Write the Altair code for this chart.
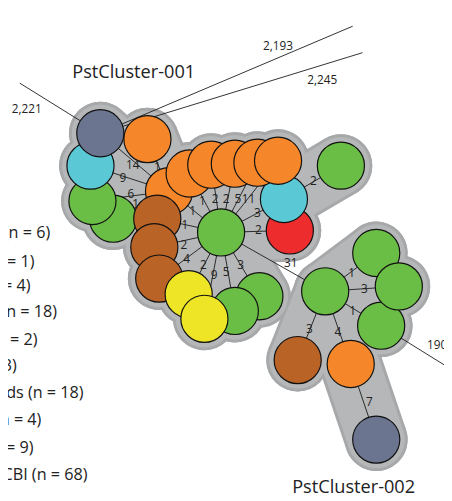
import altair as alt
import pandas as pd

# ---- nodes (reference pixel layout of the minimum spanning tree) ----
node_x = [115, 94, 92, 102, 150, 172, 160, 157, 162, 264, 239, 192, 208,
          225, 295, 289, 193, 215, 239, 262, 283, 347,
          331, 383, 388, 406, 303, 357, 383]
node_y = [218, 200, 164, 131, 137, 190, 218, 247, 279, 297, 312, 295, 320,
          232, 230, 198, 172, 163, 162, 161, 159, 164,
          292, 253, 327, 287, 362, 366, 443]
node_color = ["#6abd45", "#6abd45", "#5ac8d5", "#6b7590", "#f5872a", "#f5872a",
              "#b96326", "#b96326", "#b96326", "#6abd45", "#6abd45", "#ede526", "#ede526",
              "#6abd45", "#ec2c2d", "#5ac8d5", "#f5872a", "#f5872a", "#f5872a", "#f5872a",
              "#f5872a", "#6abd45",
              "#6abd45", "#6abd45", "#6abd45", "#6abd45", "#b96326", "#f5872a", "#6b7590"]

# ---- edges (node indices) with allele differences ----
edge_src = [5, 5, 5, 5, 5, 13, 13, 13, 13, 13, 13, 13, 13, 13, 13, 13, 13, 13, 13, 13, 15,
            13, 22, 22, 22, 22, 22, 27]
edge_dst = [3, 4, 2, 1, 0, 5, 6, 7, 8, 11, 12, 10, 9, 16, 17, 18, 19, 20, 15, 14, 21,
            22, 23, 25, 24, 26, 27, 28]
edge_label = ["14", "1", "9", "6", "1", "1", "1", "2", "4", "2", "9", "5", "3", "1", "2", "2",
              "5", "11", "3", "2", "2", "31", "1", "3", "1", "3", "4", "7"]
label_x = [135, 160, 125, 133, 138, 196, 188, 187, 190, 207, 218, 230, 245, 206, 219, 230,
           242, 253, 262, 263, 319, 296, 358, 371, 359, 315, 344, 376]
label_y = [163, 165, 177, 193, 203, 210, 225, 245, 259, 265, 275, 272, 265, 200, 198, 198,
           198, 198, 212, 230, 180, 263, 273, 290, 312, 330, 333, 405]

# ---- long edges to profiles outside the view ----
stub_src = [3, 3, 3, 24]
stub_x = [20, 359, 369, 470]
stub_y = [80, 22, 49, 378]
stub_label = ["2,221", "2,193", "2,245", "190"]
stub_label_x = [27, 283, 328, 445]
stub_label_y = [106, 42, 77, 347]

# ---- cluster names ----
cluster_name = ["PstCluster-001", "PstCluster-002"]
cluster_x = [136, 360]
cluster_y = [69, 491]

# ---- legend fragments (cut at the left edge) ----
legend_text = ["(n = 6)", "(n = 1)", "(n = 4)", "(n = 18)", "(n = 2)", "(n = 3)",
               "ds (n = 18)", "(n = 4)", "(n = 9)", "CBI (n = 68)"]
legend_right = [51, 35, 31, 58, 38, 17, 85, 42, 34, 89]
legend_y = [233, 262, 287, 313, 342, 368, 396, 423, 452, 479]

R = 24
FONT = "Open Sans"
HULL_FILL = "#b5b7b8"
HULL_EDGE = "#a6a8a9"

nodes = pd.DataFrame({"x": node_x, "y": node_y, "c": node_color,
                      "i": list(range(len(node_x)))})
edges = pd.DataFrame({
    "x": [node_x[s] for s in edge_src], "y": [node_y[s] for s in edge_src],
    "x2": [node_x[d] for d in edge_dst], "y2": [node_y[d] for d in edge_dst],
    "lab": edge_label, "lx": label_x, "ly": label_y})
hull_edges = edges[edges["lab"] != "31"]
stubs = pd.DataFrame({
    "x": [node_x[s] for s in stub_src], "y": [node_y[s] for s in stub_src],
    "x2": stub_x, "y2": stub_y, "lab": stub_label, "lx": stub_label_x, "ly": stub_label_y})
all_lines = pd.concat([edges[["x", "y", "x2", "y2"]], stubs[["x", "y", "x2", "y2"]]])
clusters = pd.DataFrame({"t": cluster_name, "x": cluster_x, "y": cluster_y})
legend = pd.DataFrame({"t": legend_text, "x": legend_right, "y": legend_y})

xs = alt.Scale(domain=[8, 452], range=[0, 444], nice=False, zero=False)
ys = alt.Scale(domain=[8, 501], range=[0, 493], nice=False, zero=False)
X = alt.X("x:Q", scale=xs, axis=None)
Y = alt.Y("y:Q", scale=ys, axis=None)
LX = alt.X("lx:Q", scale=xs, axis=None)
LY = alt.Y("ly:Q", scale=ys, axis=None)


def circles(d, color):
    return alt.Chart(nodes).mark_circle(size=d * d, color=color, opacity=1).encode(x=X, y=Y)


def bands(w, color):
    return alt.Chart(hull_edges).mark_rule(strokeWidth=w, strokeCap="round", color=color).encode(
        x=X, y=Y, x2="x2:Q", y2="y2:Q")


hull = (circles(2 * R + 16, HULL_EDGE) + bands(2 * R + 16, HULL_EDGE)
        + circles(2 * R + 10, HULL_FILL) + bands(2 * R + 10, HULL_FILL))

lines = alt.Chart(all_lines).mark_rule(strokeWidth=0.9, color="#1a1a1a").encode(
    x=X, y=Y, x2="x2:Q", y2="y2:Q")

node_layer = alt.Chart(nodes).mark_circle(
    size=(2 * R) ** 2, opacity=1, stroke="#111111", strokeWidth=1.2).encode(
    x=X, y=Y, color=alt.Color("c:N", scale=None), order=alt.Order("i:Q"))

edge_text = alt.Chart(edges).mark_text(fontSize=12, font=FONT, color="#222222").encode(
    x=LX, y=LY, text="lab:N")
stub_text = alt.Chart(stubs).mark_text(fontSize=12, font=FONT, color="#222222").encode(
    x=LX, y=LY, text="lab:N")
cluster_text = alt.Chart(clusters).mark_text(fontSize=18.5, font=FONT, color="#222222").encode(
    x=X, y=Y, text="t:N")
legend_layer = alt.Chart(legend).mark_text(fontSize=16.5, font=FONT, color="#222222",
                                           align="right").encode(x=X, y=Y, text="t:N")

chart = alt.layer(hull, lines, node_layer, edge_text, stub_text, cluster_text,
                  legend_layer).properties(
    width=444, height=493, padding=0,
    autosize=alt.AutoSizeParams(type="none"),
    background="white").configure_view(stroke=None)

chart.save("out.html", embed_options={"renderer": "svg", "actions": False})
